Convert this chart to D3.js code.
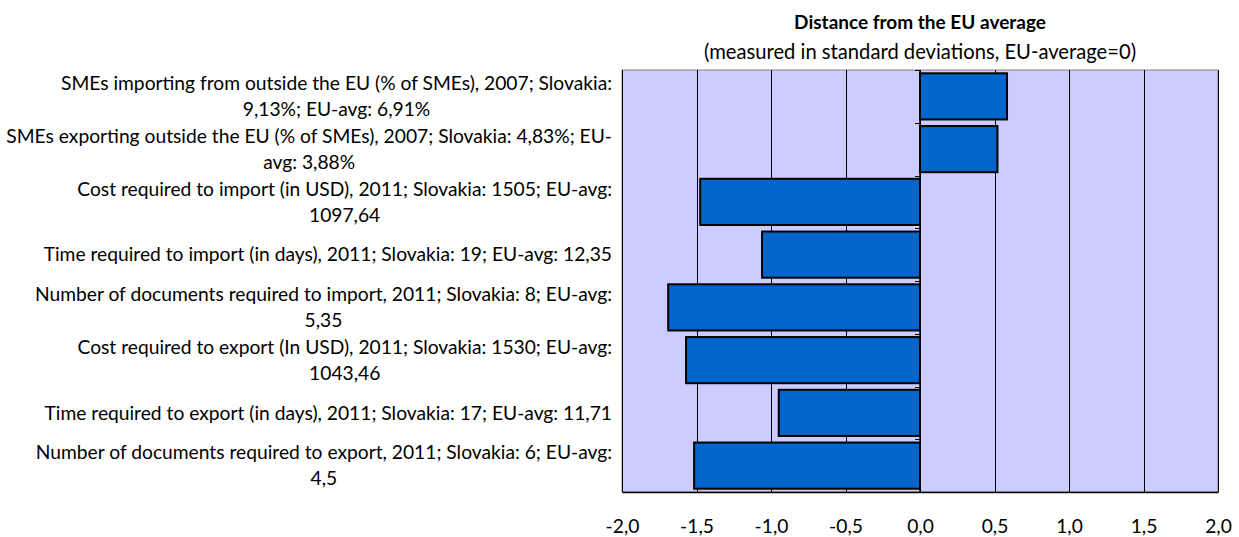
<!DOCTYPE html>
<html><head><meta charset="utf-8">
<script src="https://cdn.jsdelivr.net/npm/d3@7"></script>
<style>html,body{margin:0;padding:0;background:#fff;} svg{display:block;}</style>
</head><body>
<svg id="c" width="1239" height="537"></svg>
<script>
const categories = [
  ["SMEs importing from outside the EU (% of SMEs), 2007; Slovakia:", "9,13%; EU-avg: 6,91%"],
  ["SMEs exporting outside the EU (% of SMEs), 2007; Slovakia: 4,83%; EU-", "avg: 3,88%"],
  ["Cost required to import (in USD), 2011; Slovakia: 1505; EU-avg:", "1097,64"],
  ["Time required to import (in days), 2011; Slovakia: 19; EU-avg: 12,35"],
  ["Number of documents required to import, 2011; Slovakia: 8; EU-avg:", "5,35"],
  ["Cost required to export (In USD), 2011; Slovakia: 1530; EU-avg:", "1043,46"],
  ["Time required to export (in days), 2011; Slovakia: 17; EU-avg: 11,71"],
  ["Number of documents required to export, 2011; Slovakia: 6; EU-avg:", "4,5"]
];
const values = [0.584, 0.52, -1.475, -1.06, -1.69, -1.57, -0.948, -1.516];
const xTicks = [-2, -1.5, -1, -0.5, 0, 0.5, 1, 1.5, 2];
const title = "Distance from the EU average";
const subtitle = "(measured in standard deviations, EU-average=0)";

const svg = d3.select("#c");
const font = "Lato, 'Open Sans', sans-serif";
const m = {left: 622, right: 1218, top: 70, bottom: 492};
const x = d3.scaleLinear().domain([-2, 2]).range([m.left, m.right]);
const y = d3.scaleBand().domain(d3.range(categories.length)).range([m.top, m.bottom]).paddingInner(0.125).paddingOuter(0.0625);
const yb = d3.scaleBand().domain(d3.range(categories.length)).range([m.top, m.bottom]);

// fit label font size so the widest line fits the label area
const probe = svg.append("text").attr("font-family", font).attr("font-size", 16).text(categories[1][0]);
const w = probe.node().getComputedTextLength();
probe.remove();
const fs = 16 * 606 / w;

// plot background
svg.append("rect").attr("x", m.left).attr("y", m.top).attr("width", m.right - m.left).attr("height", m.bottom - m.top)
  .attr("fill", "#CCCCFF").attr("stroke", "#808080").attr("stroke-width", 1);

// gridlines
svg.append("g").selectAll("line").data(xTicks).join("line")
  .attr("x1", d => Math.round(x(d)) + 0.5).attr("x2", d => Math.round(x(d)) + 0.5)
  .attr("y1", m.top).attr("y2", m.bottom)
  .attr("stroke", "#000").attr("stroke-width", 1);

// bottom axis
const xAxis = d3.axisBottom(x).tickValues(xTicks).tickSize(0).tickPadding(0)
  .tickFormat(d => d3.format(".1f")(d).replace(".", ",").replace("−", "-"));
const gx = svg.append("g").attr("transform", `translate(0,${m.bottom})`).call(xAxis);
gx.select(".domain").attr("stroke", "#000").attr("stroke-width", 1.5);
gx.selectAll("text").attr("font-family", font).attr("font-size", fs).attr("fill", "#000").attr("dy", null).attr("y", 41);

// bars
svg.append("g").selectAll("rect").data(values).join("rect")
  .attr("x", d => x(Math.min(0, d))).attr("width", d => Math.abs(x(d) - x(0)))
  .attr("y", (d, i) => y(i)).attr("height", y.bandwidth())
  .attr("fill", "#0066CC").attr("stroke", "#000").attr("stroke-width", 2);

// category axis at zero
svg.append("line").attr("x1", x(0)).attr("x2", x(0)).attr("y1", m.top).attr("y2", m.bottom).attr("stroke", "#000").attr("stroke-width", 1.5);
svg.append("g").selectAll("line").data(d3.range(categories.length + 1)).join("line")
  .attr("x1", x(0) - 5).attr("x2", x(0))
  .attr("y1", i => Math.round(m.top + i * yb.step()) + 0.5).attr("y2", i => Math.round(m.top + i * yb.step()) + 0.5)
  .attr("stroke", "#000").attr("stroke-width", 1);

// category labels
const lh = 26;
const lg = svg.append("g").attr("font-family", font).attr("font-size", fs).attr("fill", "#000");
categories.forEach((lines, i) => {
  const cy = yb(i) + yb.bandwidth() / 2;
  const g = lg.append("g");
  const texts = lines.map((t, j) => g.append("text").text(t)
    .attr("y", cy + (j - (lines.length - 1) / 2) * lh).attr("dy", "0.35em"));
  const widths = texts.map(t => t.node().getComputedTextLength());
  const bw = d3.max(widths);
  const right = 612;
  texts.forEach(t => t.attr("x", right - bw / 2).attr("text-anchor", "middle"));
});

// titles
svg.append("text").attr("x", (m.left + m.right) / 2).attr("y", 22).attr("dy", "0.35em")
  .attr("text-anchor", "middle").attr("font-family", font).attr("font-weight", "bold").attr("font-size", 19).text(title);
svg.append("text").attr("x", (m.left + m.right) / 2).attr("y", 52).attr("dy", "0.35em")
  .attr("text-anchor", "middle").attr("font-family", font).attr("font-size", fs * 1.05).text(subtitle);
</script>
</body></html>
